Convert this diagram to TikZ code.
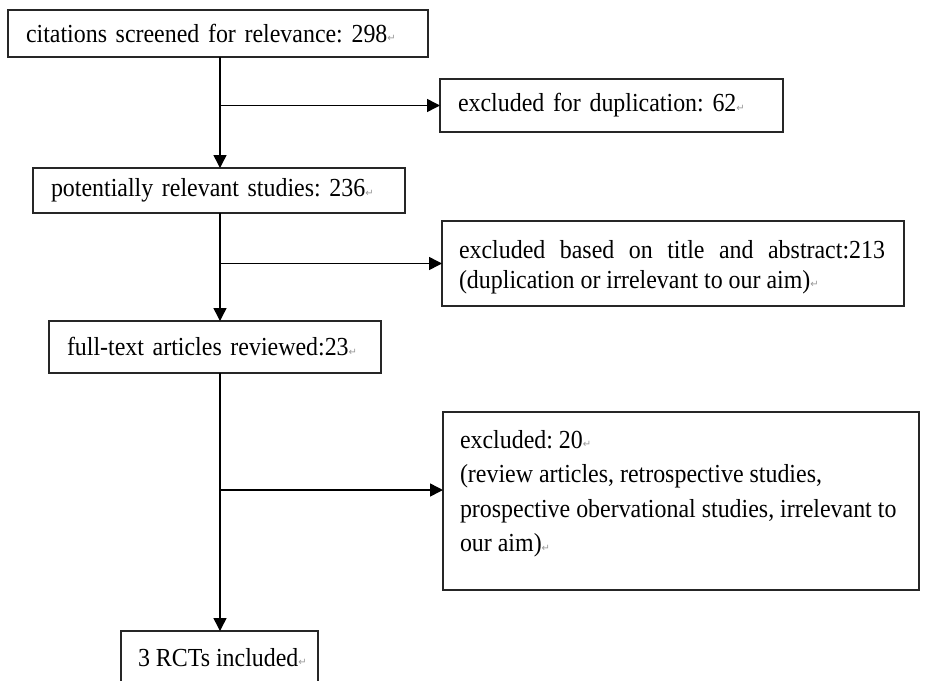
\documentclass[tikz,border=0pt]{standalone}
\usepackage{fontspec}
\setmainfont{Liberation Serif}[FakeStretch=0.92]
\newfontfamily\retfont{DejaVu Sans}
\usetikzlibrary{arrows.meta}
\newcommand{\ret}{{\retfont\fontsize{10}{10}\selectfont\color{black!40}\raisebox{0.05em}{↵}}}
\frenchspacing
\begin{document}
\begin{tikzpicture}[x=1pt,y=-1pt,
  box/.style={draw=black!85, line width=1.5pt, anchor=north west, outer sep=0pt,
    inner xsep=18pt, inner ysep=0pt, align=left, font=\fontsize{26}{30}\selectfont},
  tbox/.style={draw=black!85, line width=1.5pt, anchor=north west, outer sep=0pt,
    inner xsep=17pt, inner ysep=0pt},
  conn/.style={line width=1.5pt, -{Triangle[length=13pt,width=13pt]}},
  plain/.style={line width=1.5pt}]
\clip (0,0) rectangle (926,680);
\fill[white] (0,0) rectangle (926,680);
\coordinate (spine) at (220,0);

\node[box, text width=384pt, minimum height=47pt] (b1) at (8,10)
  {citations screened for relevance: 298\ret};
\node[box, text width=307pt, minimum height=53pt] (dup) at (440,79)
  {excluded for duplication: 62\ret};
\node[box, text width=336pt, minimum height=45pt] (b2) at (33,168)
  {potentially relevant studies: 236\ret};
\node[box, text width=296pt, minimum height=52pt] (b3) at (49,321)
  {full-text articles reviewed:23\ret};
\node[tbox] (tit) at (442,221)
  {\parbox[c][85pt][t]{428pt}{\fontsize{26}{30}\selectfont
   \rule{0pt}{37pt}\makebox[426pt][s]{excluded based on title and abstract:213}\\
   (duplication or irrelevant to our aim)\ret}};
\node[tbox] (ex) at (443,412)
  {\parbox[c][178pt][t]{442pt}{\fontsize{26}{34.5}\selectfont
   \rule{0pt}{36pt}excluded: 20\ret\\
   (review articles, retrospective studies,\\
   prospective obervational studies, irrelevant to\\
   our aim)\ret}};
\node[tbox] (b4) at (121,631)
  {\parbox[c][80pt][t]{163pt}{\fontsize{26}{30}\selectfont
   \rule{0pt}{35pt}\mbox{3 RCTs included\ret}\hss}};

\coordinate (j1) at (spine |- dup.west);
\coordinate (j2) at (spine |- tit.west);
\coordinate (j3) at (220,490);

\draw[conn] (spine |- b1.south) -- (spine |- b2.north);
\draw[conn] (j1) -- (dup.west);
\draw[conn] (spine |- b2.south) -- (spine |- b3.north);
\draw[conn] (j2) -- (tit.west);
\draw[conn] (spine |- b3.south) -- (spine |- b4.north);
\draw[conn] (j3) -- (j3 -| ex.west);
\end{tikzpicture}
\end{document}
